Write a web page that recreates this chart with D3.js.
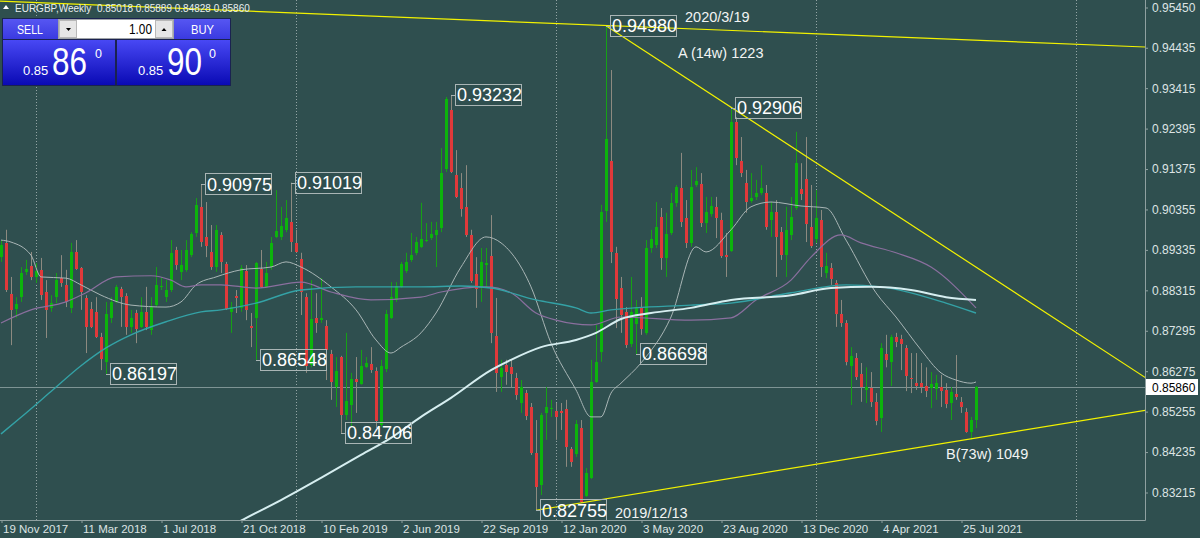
<!DOCTYPE html>
<html>
<head>
<meta charset="utf-8">
<script src="https://cdn.jsdelivr.net/npm/d3@7/dist/d3.min.js"></script>
<style>
body{margin:0;background:#2f4f4f;overflow:hidden}
svg{display:block;font-family:"Liberation Sans",Arial,sans-serif}
</style>
</head>
<body>
<svg id="svg"></svg>
<script>
//variables

// weekly bars, week 0 = 19 Nov 2017
let opens = [0.8914,0.8950,0.8821,0.8783,0.8813,0.8877,0.8892,0.8864,0.8882,0.8826,0.8786,0.8813,0.8861,0.8844,0.8786,0.8927,0.8887,0.8811,0.8783,0.8776,
0.8713,0.8650,0.8761,0.8801,0.8834,0.8816,0.8738,0.8773,0.8738,0.8776,0.8730,0.8793,0.8839,0.8813,0.8831,0.8932,0.8877,0.8882,0.8919,0.8975,
0.9041,0.8965,0.8927,0.8889,0.8970,0.8897,0.8776,0.8816,0.8786,0.8879,0.8740,0.8761,0.8884,0.8839,0.8889,0.8965,0.8965,0.8983,0.9003,0.8950,
0.8909,0.8813,0.8641,0.8761,0.8755,0.8740,0.8670,0.8586,0.8662,0.8516,0.8541,0.8607,0.8594,0.8636,0.8644,0.8627,0.8490,0.8632,0.8761,0.8806,
0.8839,0.8879,0.8907,0.8925,0.8940,0.8955,0.8962,0.8970,0.8988,0.9136,0.9285,0.9121,0.9088,0.9041,0.8970,0.8871,0.8836,0.8894,0.8917,0.8715,
0.8612,0.8641,0.8636,0.8609,0.8546,0.8571,0.8536,0.8420,0.8339,0.8521,0.8531,0.8526,0.8526,0.8531,0.8430,0.8417,0.8483,0.8311,0.8357,0.8599,
0.8675,0.9030,0.9156,0.8925,0.8836,0.8776,0.8695,0.8745,0.8786,0.8723,0.8937,0.8945,0.9016,0.8912,0.8975,0.9051,0.9088,0.9013,0.8950,0.9096,
0.9098,0.9000,0.9023,0.9041,0.9008,0.8919,0.8930,0.9255,0.9156,0.9101,0.9056,0.9066,0.9076,0.9076,0.9008,0.9028,0.8977,0.8919,0.8970,0.9038,
0.9086,0.9111,0.8990,0.8960,0.9008,0.8874,0.8887,0.8849,0.8771,0.8748,0.8641,0.8660,0.8619,0.8579,0.8584,0.8549,0.8508,0.8670,0.8650,0.8713,
0.8708,0.8685,0.8609,0.8596,0.8596,0.8589,0.8584,0.8581,0.8586,0.8579,0.8546,0.8569,0.8549,0.8523,0.8473,0.85018];

let highs = [0.8957,0.8983,0.8864,0.8813,0.8889,0.8907,0.8927,0.8899,0.8912,0.8856,0.8818,0.8874,0.8919,0.8882,0.8950,0.8957,0.8889,0.8818,0.8801,0.8813,
0.8723,0.8801,0.8813,0.8844,0.8839,0.8823,0.8781,0.8781,0.8813,0.8839,0.8813,0.8889,0.8864,0.8856,0.8957,0.8940,0.8932,0.8957,0.8977,0.9063,
0.90975,0.9053,0.8995,0.8995,0.8977,0.8902,0.8801,0.8831,0.8894,0.8894,0.8773,0.8902,0.8932,0.8902,0.8965,0.9083,0.9041,0.9058,0.91019,0.8983,
0.8925,0.8823,0.8856,0.8823,0.8861,0.8755,0.8680,0.8662,0.8665,0.8723,0.8622,0.8662,0.8680,0.8662,0.8687,0.8636,0.8655,0.8781,0.8851,0.8851,
0.8902,0.8925,0.8975,0.8965,0.9051,0.9000,0.9003,0.9003,0.9189,0.9318,0.93232,0.9184,0.9126,0.9146,0.8983,0.8914,0.8937,0.8937,0.9020,0.8811,
0.8655,0.8655,0.8655,0.8622,0.8604,0.8579,0.8546,0.8503,0.8521,0.8586,0.8554,0.8546,0.8546,0.8554,0.8435,0.8503,0.8503,0.8382,0.8655,0.8743,
0.9046,0.94980,0.9386,0.8940,0.8864,0.8788,0.8864,0.8806,0.8813,0.8957,0.8983,0.9053,0.9038,0.9026,0.9076,0.9096,0.9177,0.9058,0.9134,0.9141,
0.9126,0.9066,0.9066,0.9066,0.9026,0.8975,0.92906,0.9267,0.9217,0.9134,0.9126,0.9109,0.9146,0.9096,0.9053,0.9058,0.8990,0.9041,0.9066,0.9230,
0.9151,0.9217,0.9096,0.9083,0.9033,0.8925,0.8899,0.8856,0.8806,0.8755,0.8687,0.8672,0.8647,0.8636,0.8624,0.8571,0.8697,0.8718,0.8718,0.8723,
0.8718,0.8692,0.8672,0.8672,0.8647,0.8636,0.8624,0.8617,0.8617,0.8596,0.8586,0.8667,0.8561,0.8533,0.8511,0.85889];

let lows = [0.8902,0.8826,0.8692,0.8761,0.8801,0.8869,0.8856,0.8849,0.8806,0.8710,0.8776,0.8798,0.8839,0.8788,0.8773,0.8882,0.8781,0.8672,0.8735,0.8710,
0.8629,0.86197,0.8748,0.8798,0.8738,0.8718,0.8723,0.8697,0.8735,0.8730,0.8718,0.8788,0.8831,0.8801,0.8826,0.8882,0.8856,0.8877,0.8914,0.8965,
0.8940,0.8914,0.8882,0.8877,0.8874,0.8781,0.8723,0.8773,0.8776,0.8755,0.8687,0.86548,0.8836,0.8836,0.8882,0.8962,0.8957,0.8977,0.8927,0.8925,
0.8768,0.8622,0.8636,0.8723,0.8748,0.8604,0.8554,0.8536,0.84706,0.8503,0.8485,0.8521,0.8592,0.8634,0.8622,0.8483,0.8485,0.8624,0.8758,0.8801,
0.8836,0.8874,0.8902,0.8919,0.8937,0.8952,0.8957,0.8889,0.8977,0.9129,0.9126,0.9063,0.9016,0.8965,0.8849,0.8786,0.8801,0.8836,0.8697,0.8574,
0.8574,0.8592,0.8586,0.8554,0.8521,0.8503,0.8415,0.82755,0.8314,0.8453,0.8511,0.8453,0.8478,0.8385,0.8385,0.8410,0.8294,0.8309,0.8354,0.8597,
0.8650,0.9003,0.8899,0.8735,0.8723,0.8685,0.8687,0.86698,0.8718,0.8718,0.8925,0.8937,0.8882,0.8864,0.8970,0.9041,0.8990,0.8937,0.8940,0.9091,
0.8990,0.8975,0.9016,0.8962,0.8912,0.8864,0.8927,0.9146,0.9116,0.9026,0.9051,0.9058,0.9071,0.8983,0.8965,0.8864,0.8907,0.8864,0.8957,0.9033,
0.9058,0.8952,0.8937,0.8950,0.8864,0.8861,0.8844,0.8738,0.8738,0.8641,0.8541,0.8604,0.8549,0.8546,0.8536,0.8490,0.8473,0.8636,0.8589,0.8687,
0.8629,0.8576,0.8571,0.8579,0.8571,0.8561,0.8533,0.8554,0.8536,0.8533,0.8503,0.8554,0.8521,0.8471,0.8453,0.84828];

let closes = [0.8945,0.8831,0.8781,0.8796,0.8874,0.8884,0.8864,0.8879,0.8818,0.8781,0.8798,0.8856,0.8849,0.8801,0.8927,0.8884,0.8826,0.8738,0.8738,0.8713,
0.8657,0.8771,0.8801,0.8839,0.8813,0.8738,0.8761,0.8733,0.8776,0.8738,0.8788,0.8844,0.8841,0.8831,0.8925,0.8894,0.8894,0.8932,0.8972,0.9046,
0.8952,0.8942,0.8889,0.8983,0.8902,0.8783,0.8788,0.8811,0.8887,0.8781,0.8735,0.8899,0.8839,0.8874,0.8950,0.8980,0.8993,0.9013,0.8952,0.8927,
0.8826,0.8639,0.8758,0.8748,0.8761,0.8680,0.8599,0.8627,0.8516,0.8551,0.8607,0.8599,0.8639,0.8647,0.8629,0.8501,0.8639,0.8771,0.8813,0.8841,
0.8897,0.8902,0.8919,0.8952,0.8960,0.8957,0.8972,0.8983,0.9126,0.9313,0.9129,0.9066,0.9036,0.8970,0.8854,0.8834,0.8902,0.8899,0.8723,0.8622,
0.8634,0.8624,0.8619,0.8566,0.8586,0.8513,0.8420,0.8334,0.8516,0.8536,0.8533,0.8511,0.8521,0.8435,0.8397,0.8493,0.8296,0.8370,0.8599,0.8650,
0.9028,0.9212,0.8927,0.8808,0.8768,0.8692,0.8776,0.8788,0.8733,0.8937,0.8960,0.8990,0.8912,0.8972,0.9051,0.9091,0.9003,0.8950,0.9091,0.9106,
0.9000,0.9028,0.9043,0.9013,0.8917,0.8914,0.9255,0.9164,0.9126,0.9053,0.9063,0.9076,0.9088,0.8990,0.9028,0.8965,0.8919,0.8983,0.9016,0.9152,
0.9073,0.8998,0.8942,0.9013,0.8889,0.8892,0.8859,0.8771,0.8748,0.8650,0.8665,0.8611,0.8586,0.8586,0.8549,0.8501,0.8685,0.8655,0.8713,0.8700,
0.8695,0.8614,0.8607,0.8589,0.8586,0.8576,0.8594,0.8596,0.8576,0.8544,0.8574,0.8561,0.8536,0.8473,0.8503,0.85860];

// moving averages (week, price)
let whiteWeeks = [46,48,56,64,72,78,84,90,98,102,108,115,119,124,130,138,146,158,166,174,182,189,195];
let whiteMA = [0.8235,0.8249,0.8301,0.8357,0.8415,0.8458,0.8511,0.8559,0.8629,0.8655,0.8687,0.8705,0.8723,0.8758,0.8773,0.8786,0.8806,0.8818,0.8836,0.8839,0.8831,0.8813,0.8806];

let tealWeeks = [0,4,10,16,21,26,33,40,44,51,60,71,84,92,98,107,115,118,122,138,146,158,169,176,182,189,195];
let tealMA = [0.8468,0.8510,0.8575,0.8640,0.8685,0.8718,0.8751,0.8776,0.8781,0.8798,0.8831,0.8839,0.8839,0.8841,0.8836,0.8806,0.8786,0.8773,0.8781,0.8793,0.8798,0.8824,0.8844,0.8839,0.8824,0.8798,0.8773];

let purpleWeeks = [0,6,13,17,23,30,34,37,40,44,51,60,66,74,84,88,97,102,107,111,118,124,138,146,151,158,162,168,172,179,186,195];
let purpleMA = [0.8748,0.8781,0.8801,0.8824,0.8864,0.8867,0.8856,0.8839,0.8844,0.8844,0.8836,0.8851,0.8826,0.8806,0.8813,0.8826,0.8839,0.8824,0.8773,0.8755,0.8743,0.8763,0.8755,0.8761,0.8806,0.8856,0.8914,0.8970,0.8950,0.8925,0.8889,0.8786];

let grayWeeks = [0,2,6,8,13,16,20,26,33,36,39,43,48,54,57,60,66,71,75,78,80,84,87,92,97,100,106,110,115,118,120,122,124,128,134,139,141,146,150,154,160,165,169,175,179,184,188,191,194,195];
let grayMA = [0.8957,0.8952,0.8919,0.8864,0.8861,0.8844,0.8818,0.8793,0.8788,0.8801,0.8844,0.8864,0.8882,0.8889,0.8902,0.8889,0.8839,0.8781,0.8705,0.8672,0.8687,0.8723,0.8773,0.8889,0.8965,0.8950,0.8839,0.8697,0.8579,0.8511,0.8511,0.8571,0.8596,0.8647,0.8763,0.8940,0.8927,0.8983,0.9041,0.9053,0.9043,0.9038,0.8957,0.8824,0.8763,0.8680,0.8622,0.8604,0.8596,0.8599];

// swing high / low labels
let swingWeeks = [21,40,51,58,68,90,107,121,127,146];
let swingPrices = [0.86197,0.90975,0.86548,0.91019,0.84706,0.93232,0.82755,0.94980,0.86698,0.92906];

// trend lines: start and end (week, price)
let topLineWeeks = [-1,229];
let topLinePrices = [0.9560,0.9444];
let fallLineWeeks = [121,229];
let fallLinePrices = [0.94980,0.8609];
let riseLineWeeks = [107,229];
let riseLinePrices = [0.82755,0.8528];

// axes
let dateWeeks = [0,16,32,48,64,80,96,112,128,144,160,176,192];
let dateLabels = ["19 Nov 2017","11 Mar 2018","1 Jul 2018","21 Oct 2018","10 Feb 2019","2 Jun 2019","22 Sep 2019","12 Jan 2020","3 May 2020","23 Aug 2020","13 Dec 2020","4 Apr 2021","25 Jul 2021"];
let priceTicks = [0.95450,0.94435,0.93415,0.92395,0.91375,0.90355,0.89335,0.88315,0.87295,0.86275,0.85255,0.84235,0.83215];
let separatorWeeks = [7,59,111,163,215];
let bidPrice = 0.85860;

let svg = d3.select("#svg");
let width = 1200;
let height = 538;
let plotRight = 1145;
let plotBottom = 520;

let xScale;
let yScale;
let plot;

//functions

let makeBackground = () => {
  svg.attr("width", width).attr("height", height);
  svg.append("rect").attr("width", width).attr("height", height).attr("fill", "#2f4f4f");
  svg.append("clipPath").attr("id", "plotclip")
    .append("rect").attr("width", plotRight).attr("height", plotBottom);
  plot = svg.append("g").attr("clip-path", "url(#plotclip)");
}

let scaleFunction = () => {
  xScale = d3.scaleLinear().domain([0, 195]).range([1, 976]);
  yScale = d3.scaleLinear().domain([0.83215, 0.95450]).range([492, 7]);
}

let makeAxes = () => {
  let xAxis = d3.axisBottom(xScale)
    .tickValues(dateWeeks)
    .tickFormat((d, i) => dateLabels[i])
    .tickSize(3).tickSizeOuter(0).tickPadding(2);
  let yAxis = d3.axisRight(yScale)
    .tickValues(priceTicks)
    .tickFormat(d3.format(".5f"))
    .tickSize(3).tickSizeOuter(0).tickPadding(4);

  let gx = svg.append("g")
    .attr("transform", "translate(0.5," + plotBottom + ")")
    .call(xAxis);
  gx.select(".domain").remove();
  gx.selectAll("text").attr("text-anchor", "start").attr("x", 1)
    .attr("fill", "#dde4e4").style("font-size", "11.5px");
  gx.selectAll("line").attr("stroke", "#8fa0a0");

  let gy = svg.append("g")
    .attr("transform", "translate(" + plotRight + ",0.5)")
    .call(yAxis);
  gy.select(".domain").remove();
  gy.selectAll("text").attr("fill", "#dde4e4").style("font-size", "12px");
  gy.selectAll("line").attr("stroke", "#8fa0a0");

  svg.append("line").attr("x1", plotRight + 0.5).attr("x2", plotRight + 0.5)
    .attr("y1", 0).attr("y2", plotBottom + 0.5).attr("stroke", "#8fa0a0");
  svg.append("line").attr("x1", 0).attr("x2", plotRight + 0.5)
    .attr("y1", plotBottom + 0.5).attr("y2", plotBottom + 0.5).attr("stroke", "#8fa0a0");

  // current price tag
  let by = yScale(bidPrice);
  svg.append("rect").attr("x", plotRight + 1).attr("y", Math.round(by) - 8)
    .attr("width", 52).attr("height", 16).attr("fill", "#ffffff");
  svg.append("text").attr("x", plotRight + 7).attr("y", by + 4.5)
    .attr("fill", "#000").style("font-size", "12px").text(d3.format(".5f")(bidPrice));
}

let makeGrid = () => {
  plot.selectAll(".sep")
    .data(separatorWeeks)
    .enter()
    .append("line")
    .attr("x1", (d) => Math.round(xScale(d)) + 0.5)
    .attr("x2", (d) => Math.round(xScale(d)) + 0.5)
    .attr("y1", 0).attr("y2", plotBottom)
    .attr("stroke", "#93a4a4").attr("stroke-dasharray", "1,2");

  let by = Math.round(yScale(bidPrice)) + 0.5;
  plot.append("line").attr("x1", 0).attr("x2", plotRight)
    .attr("y1", by).attr("y2", by).attr("stroke", "#7e9494");
}

let makeLine = (weeks, values, color, w) => {
  let line = d3.line()
    .x((d) => xScale(d))
    .y((d, i) => yScale(values[i]))
    .curve(d3.curveMonotoneX);
  plot.append("path")
    .attr("d", line(weeks))
    .attr("fill", "none")
    .attr("stroke", color)
    .attr("stroke-width", w);
}

let makeGraph = () => {
  let bars = d3.range(opens.length);

  plot.selectAll(".wick")
    .data(bars)
    .enter()
    .append("line")
    .attr("class", "wick")
    .attr("x1", (d) => Math.round(xScale(d)) + 0.5)
    .attr("x2", (d) => Math.round(xScale(d)) + 0.5)
    .attr("y1", (d) => yScale(highs[d]))
    .attr("y2", (d) => yScale(lows[d]))
    .attr("stroke", (d) => closes[d] >= opens[d] ? "#16a016" : "#8d8a80")
    .attr("stroke-width", 1);

  plot.selectAll(".cell")
    .data(bars)
    .enter()
    .append("rect")
    .attr("class", "cell")
    .attr("x", (d) => Math.round(xScale(d)) - 1)
    .attr("y", (d) => Math.round(yScale(Math.max(opens[d], closes[d]))))
    .attr("width", 3)
    .attr("height", (d) => Math.max(1, Math.round(Math.abs(yScale(opens[d]) - yScale(closes[d])))))
    .attr("fill", (d) => closes[d] >= opens[d] ? "#0cb40c" : "#e0393a")
    .attr("shape-rendering", "crispEdges");

  makeLine(grayWeeks, grayMA, "#a9b6b6", 1);
  makeLine(purpleWeeks, purpleMA, "#8a6f9e", 1.2);
  makeLine(tealWeeks, tealMA, "#34a2a6", 1.4);
  makeLine(whiteWeeks, whiteMA, "#d6eef0", 2);
}

let makeTrendLines = () => {
  [[topLineWeeks, topLinePrices], [fallLineWeeks, fallLinePrices], [riseLineWeeks, riseLinePrices]]
    .forEach((t) => {
      plot.append("line")
        .attr("x1", xScale(t[0][0])).attr("y1", yScale(t[1][0]))
        .attr("x2", xScale(t[0][1])).attr("y2", yScale(t[1][1]))
        .attr("stroke", "#f2f200").attr("stroke-width", 1.2);
    });

  let notes = [
    ["2020/3/19", 685, 22],
    ["A (14w) 1223", 678, 58],
    ["B(73w) 1049", 946, 459],
    ["2019/12/13", 615, 518]
  ];
  svg.selectAll(".note")
    .data(notes)
    .enter()
    .append("text")
    .attr("x", (d) => d[1]).attr("y", (d) => d[2])
    .attr("fill", "#f2f4f4").style("font-size", "14.5px")
    .text((d) => d[0]);
}

let makeSwingLabels = () => {
  swingWeeks.forEach((w, k) => {
    let cx = Math.round(xScale(w));
    let cy = yScale(swingPrices[k]);
    plot.append("line").attr("x1", cx).attr("x2", cx + 4)
      .attr("y1", Math.round(cy) + 0.5).attr("y2", Math.round(cy) + 0.5)
      .attr("stroke", "#a9b5b5");
    plot.append("rect")
      .attr("x", cx + 4.5).attr("y", Math.round(cy) - 10.5)
      .attr("width", 66).attr("height", 21)
      .attr("fill", "none").attr("stroke", "#a9b5b5");
    plot.append("text")
      .attr("x", cx + 6).attr("y", cy + 6.5)
      .attr("fill", "#ffffff").style("font-size", "18px")
      .text(d3.format(".5f")(swingPrices[k]));
  });
}

let makePanel = () => {
  let p = svg.append("g");
  let defs = svg.append("defs");
  let grad = defs.append("linearGradient").attr("id", "blue").attr("x1", 0).attr("x2", 0).attr("y1", 0).attr("y2", 1);
  grad.append("stop").attr("offset", "0%").attr("stop-color", "#4848f4");
  grad.append("stop").attr("offset", "100%").attr("stop-color", "#0a0ab4");
  let grad2 = defs.append("linearGradient").attr("id", "btn").attr("x1", 0).attr("x2", 0).attr("y1", 0).attr("y2", 1);
  grad2.append("stop").attr("offset", "0%").attr("stop-color", "#5656f2");
  grad2.append("stop").attr("offset", "100%").attr("stop-color", "#3a3ae0");

  // header text
  p.append("path").attr("d", "M3,9 L6,5 L9,9 Z").attr("fill", "#ffffff");
  p.append("text").attr("x", 15).attr("y", 12)
    .style("font-size", "10px").style("white-space", "pre")
    .attr("fill", "#e8eeee")
    .text("EURGBP,Weekly  " + [opens[195], highs[195], lows[195], closes[195]].map(d3.format(".5f")).join(" "));

  p.append("rect").attr("x", 2).attr("y", 18).attr("width", 229).attr("height", 68).attr("fill", "#1a2250");
  p.append("rect").attr("x", 3).attr("y", 19).attr("width", 55).attr("height", 20).attr("fill", "url(#btn)");
  p.append("rect").attr("x", 174).attr("y", 19).attr("width", 56).attr("height", 20).attr("fill", "url(#btn)");
  p.append("rect").attr("x", 58.5).attr("y", 19.5).attr("width", 115).attr("height", 19).attr("fill", "#ffffff").attr("stroke", "#a0a4a8");
  p.append("rect").attr("x", 59.5).attr("y", 20.5).attr("width", 17).attr("height", 17).attr("fill", "#e6e6e6").attr("stroke", "#b8b8b8");
  p.append("rect").attr("x", 155.5).attr("y", 20.5).attr("width", 17).attr("height", 17).attr("fill", "#e6e6e6").attr("stroke", "#b8b8b8");
  p.append("path").attr("d", "M66,28 L71,28 L68.5,31 Z").attr("fill", "#000");
  p.append("path").attr("d", "M161.5,31 L166.5,31 L164,28 Z").attr("fill", "#000");
  p.append("text").attr("x", 17).attr("y", 34).attr("fill", "#fff").style("font-size", "13.5px")
    .attr("textLength", 26).attr("lengthAdjust", "spacingAndGlyphs").text("SELL");
  p.append("text").attr("x", 191).attr("y", 34).attr("fill", "#fff").style("font-size", "13.5px")
    .attr("textLength", 23).attr("lengthAdjust", "spacingAndGlyphs").text("BUY");
  p.append("text").attr("x", 129).attr("y", 34).attr("fill", "#000").style("font-size", "14px")
    .attr("textLength", 23).attr("lengthAdjust", "spacingAndGlyphs").text("1.00");

  p.append("rect").attr("x", 3).attr("y", 40).attr("width", 112).attr("height", 45).attr("fill", "url(#blue)");
  p.append("rect").attr("x", 117).attr("y", 40).attr("width", 113).attr("height", 45).attr("fill", "url(#blue)");

  let quotes = [["0.85", "86", "0", 23, 52, 95], ["0.85", "90", "0", 138, 167, 209]];
  quotes.forEach((q) => {
    p.append("text").attr("x", q[3]).attr("y", 75).attr("fill", "#fff").style("font-size", "13px").text(q[0]);
    p.append("text").attr("x", q[4]).attr("y", 75).attr("fill", "#fff").style("font-size", "38px")
      .attr("textLength", 35).attr("lengthAdjust", "spacingAndGlyphs").text(q[1]);
    p.append("text").attr("x", q[5]).attr("y", 58).attr("fill", "#fff").style("font-size", "12.5px").text(q[2]);
  });
}

//function calls

makeBackground();
scaleFunction();
makeGrid();
makeGraph();
makeTrendLines();
makeSwingLabels();
makeAxes();
makePanel();
</script>
</body>
</html>
